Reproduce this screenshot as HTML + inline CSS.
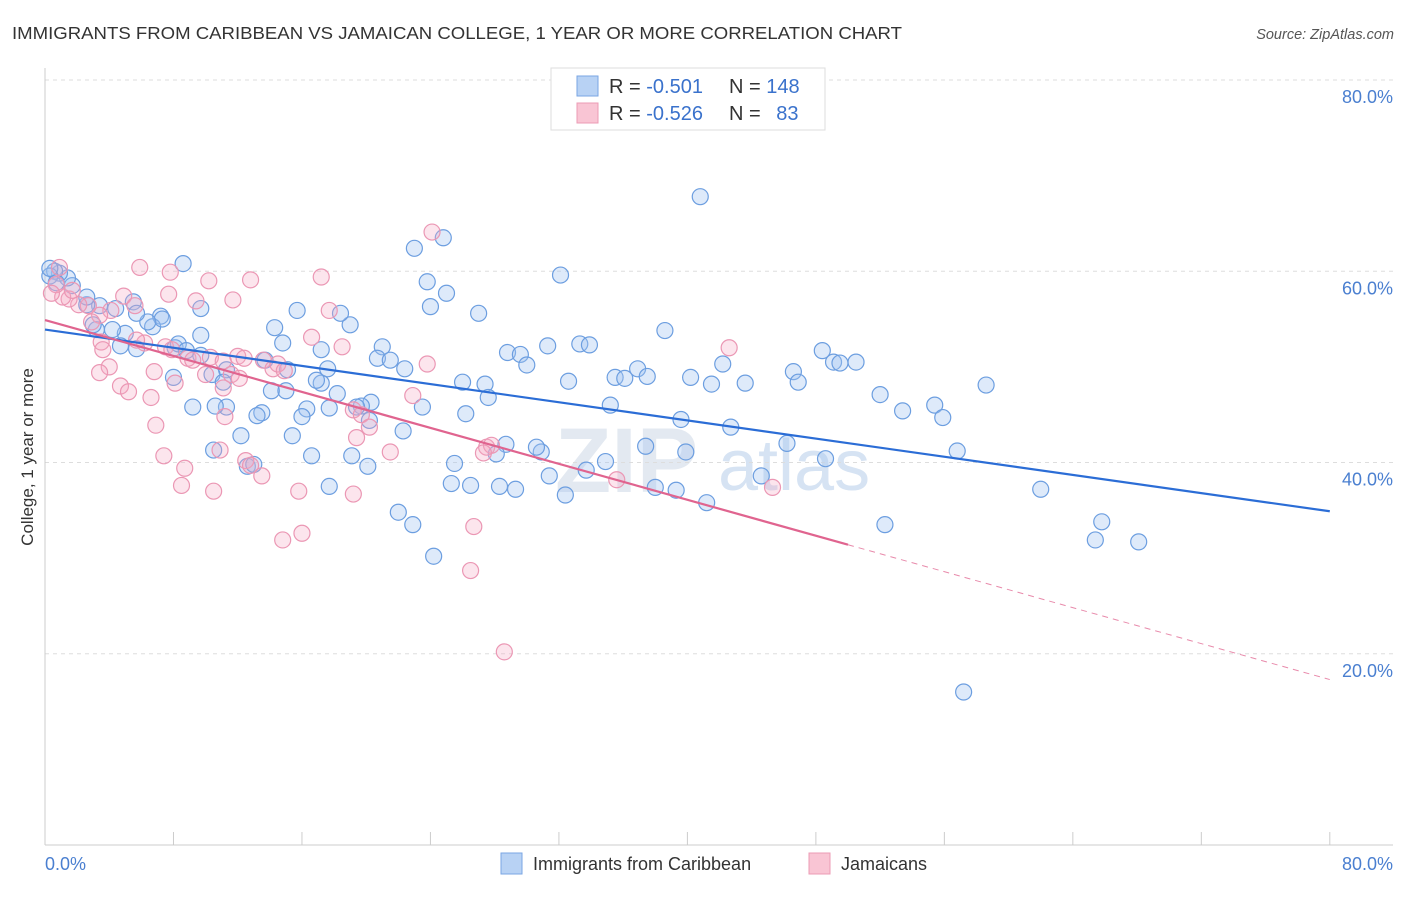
<!DOCTYPE html>
<html><head><meta charset="utf-8"><style>
body{margin:0;background:#fff;font-family:"Liberation Sans",sans-serif;}
svg text{font-family:"Liberation Sans",sans-serif;}
</style></head><body>
<svg id="chart" width="1406" height="892">
<text x="12" y="39" font-size="17.5" fill="#333" textLength="890" lengthAdjust="spacingAndGlyphs">IMMIGRANTS FROM CARIBBEAN VS JAMAICAN COLLEGE, 1 YEAR OR MORE CORRELATION CHART</text>
<text x="1394" y="39" font-size="14.5" fill="#555" font-style="italic" text-anchor="end">Source: ZipAtlas.com</text>
<text x="33" y="457" font-size="17" fill="#333" text-anchor="middle" transform="rotate(-90 33 457)">College, 1 year or more</text>
<text x="555" y="492" font-size="92" fill="#e3e9f1" font-weight="bold">ZIP</text>
<text x="718" y="490" font-size="72" fill="#d6e3f3">atlas</text>
<g id="grid"></g><g id="axes"></g><g id="pts"></g><g id="lines"></g>
<g>
<rect x="551" y="68" width="274" height="62" fill="#fff" stroke="#ddd"/>
<rect x="577" y="76" width="21" height="20" fill="#b8d2f4" stroke="#7aa6e3"/>
<rect x="577" y="103" width="21" height="20" fill="#f9c5d4" stroke="#ec9bb5"/>
<text x="609" y="93" font-size="20" fill="#333">R = <tspan fill="#3a72cc">-0.501</tspan></text>
<text x="729" y="93" font-size="20" fill="#333">N = <tspan fill="#3a72cc">148</tspan></text>
<text x="609" y="120" font-size="20" fill="#333">R = <tspan fill="#3a72cc">-0.526</tspan></text>
<text x="729" y="120" font-size="20" fill="#333">N = <tspan fill="#3a72cc" dx="10">83</tspan></text>
</g>
<g>
<rect x="501" y="853" width="21" height="21" fill="#b8d2f4" stroke="#7aa6e3"/>
<text x="533" y="870" font-size="18" fill="#333">Immigrants from Caribbean</text>
<rect x="809" y="853" width="21" height="21" fill="#f9c5d4" stroke="#ec9bb5"/>
<text x="841" y="870" font-size="18" fill="#333">Jamaicans</text>
</g>
</svg>
<script>
const yTicks=[20,40,60,80];
const yTickLabels=["20.0%","40.0%","60.0%","80.0%"];
const xTickLabels=["0.0%","80.0%"];
const blueX=[40.8,8.6,23.0,24.8,32.1,23.8,25.0,24.0,27.0,38.6,15.7,14.3,19.0,18.4,21.0,17.2,14.8,20.7,21.5,22.4,26.0,27.4,27.6,28.8,29.6,30.0,31.3,33.3,33.9,32.6,35.5,36.1,36.9,37.5,40.2,41.5,42.2,43.6,46.6,46.9,48.4,49.1,49.5,50.5,52.0,53.4,55.4,55.9,58.6,56.8,62.0,65.8,65.4,68.1,57.2,52.3,48.6,46.2,44.6,42.7,39.6,39.9,37.4,35.2,34.9,33.7,38.0,39.3,41.2,31.4,32.4,30.9,30.6,29.3,28.3,28.7,28.1,26.5,25.3,25.5,26.2,23.5,22.3,20.3,19.7,19.4,18.2,17.7,17.2,16.9,16.3,16.0,15.4,13.5,13.2,14.1,15.0,15.1,13.7,11.3,12.2,12.6,13.0,10.5,11.3,10.6,9.2,9.7,10.4,11.1,8.1,8.3,8.8,9.7,9.7,7.2,6.7,7.3,6.4,5.5,5.7,4.4,5.0,4.7,5.7,4.2,3.2,3.0,3.4,2.6,2.6,1.7,1.4,0.9,0.6,0.3,0.7,0.3,16.6,17.6,22.0,22.9,24.2,20.1,17.7,19.1,20.2,8.0];
const blueY=[67.8,60.8,62.4,63.5,59.6,58.9,57.7,56.3,55.6,53.8,55.9,54.1,54.4,55.6,52.1,51.8,52.5,50.9,50.7,49.8,48.4,48.2,46.8,51.5,51.3,50.2,52.2,52.4,52.3,48.5,48.9,48.8,49.8,49.0,48.9,48.2,50.3,48.3,49.5,48.4,51.7,50.5,50.4,50.5,47.1,45.4,46.0,44.7,48.1,41.2,37.2,33.8,31.9,31.7,16.0,33.5,40.4,42.0,38.6,43.7,44.5,41.1,41.7,46.0,40.1,39.2,37.4,37.1,35.8,38.6,36.6,41.1,41.6,37.2,37.5,41.9,40.9,37.6,37.8,39.9,45.1,45.8,43.3,46.3,45.9,45.8,47.2,45.7,48.3,48.6,45.6,44.8,42.8,45.2,44.9,47.5,47.5,49.7,50.7,49.7,42.8,39.6,39.8,41.3,45.8,45.9,45.8,51.2,49.2,48.4,52.0,52.4,51.7,53.3,56.1,55.3,54.2,55.0,54.7,56.8,55.6,56.1,53.5,52.2,51.9,53.9,53.9,54.4,56.4,56.5,57.3,58.5,59.3,59.8,60.0,59.5,58.8,60.3,40.7,49.8,34.8,33.5,30.2,39.6,37.5,40.7,44.4,48.9];
const pinkX=[24.1,17.2,17.7,18.5,12.8,10.2,11.7,7.8,5.9,9.4,7.7,4.9,5.6,4.1,3.4,2.7,2.1,1.5,1.1,0.7,0.4,0.9,1.7,2.9,3.5,3.6,4.0,3.4,4.7,5.2,6.6,6.8,6.2,5.7,7.5,7.9,8.1,8.9,9.2,10.0,10.3,11.1,11.1,11.2,10.9,11.6,12.0,12.4,12.5,12.8,13.6,14.2,14.5,14.9,15.8,16.0,14.8,13.5,10.5,8.7,8.5,7.4,6.9,12.1,19.2,19.7,19.2,19.4,20.2,21.5,22.9,23.8,27.5,27.8,27.3,26.7,26.5,28.6,42.6,45.3,35.6,16.6];
const pinkY=[64.1,59.4,55.9,52.1,59.1,59.0,57.0,59.9,60.4,56.9,57.6,57.4,56.4,55.9,55.4,56.4,56.5,57.1,57.3,58.6,57.7,60.4,58.0,54.7,52.6,51.8,50.0,49.4,48.0,47.4,46.8,49.5,52.5,52.8,52.1,51.8,48.3,50.9,50.7,49.2,51.0,47.8,50.6,44.8,41.3,49.2,51.1,50.9,40.2,39.7,50.7,49.8,50.3,49.6,37.0,32.6,31.9,38.6,37.0,39.4,37.6,40.7,43.9,48.8,45.5,45.0,36.7,42.6,43.7,41.1,47.0,50.3,41.6,41.8,41.0,33.3,28.7,20.2,52.0,37.4,38.2,53.1];
const blueLine=[53.9,34.9];
const pinkLine=[54.9,17.3];
const pinkSolidEnd=50;
const X=v=>45+v*16.06, Y=v=>845-v*9.5625;
const NS="http://www.w3.org/2000/svg";
function mk(tag,attrs,parent){const e=document.createElementNS(NS,tag);for(const k in attrs)e.setAttribute(k,attrs[k]);document.getElementById(parent).appendChild(e);return e;}
yTicks.forEach((t,i)=>{
 const g=mk('line',{x1:45,x2:1393,y1:Y(t),y2:Y(t),stroke:'#ddd','stroke-dasharray':'4,4'},'grid');
 
 
 const l=mk('text',{x:1393,y:Y(t)+23,'font-size':18,fill:'#4a7fd0','text-anchor':'end'},'axes');
 l.textContent=yTickLabels[i];
 
 
});
const ax=mk('line',{x1:45,x2:1393,y1:845,y2:845,stroke:'#ccc'},'axes');


const ay=mk('line',{x1:45,x2:45,y1:68,y2:845,stroke:'#ccc'},'axes');


for(let i=0;i<=10;i++){const t=mk('line',{x1:X(i*8),x2:X(i*8),y1:832,y2:845,stroke:'#ccc'},'axes');
 
 }
[[0,'start',45],[80,'end',1393]].forEach((d,i)=>{const t=mk('text',{x:d[2],y:870,'font-size':18,fill:'#4a7fd0','text-anchor':d[1]},'axes');t.textContent=xTickLabels[i];
 
 });
blueX.forEach((x,i)=>{const c=mk('circle',{cx:X(x),cy:Y(blueY[i]),r:8,fill:'rgba(160,195,240,0.35)',stroke:'#6c9ee0','stroke-width':1.2},'pts');
 
 });
pinkX.forEach((x,i)=>{const c=mk('circle',{cx:X(x),cy:Y(pinkY[i]),r:8,fill:'rgba(245,170,195,0.3)',stroke:'#eb97b4','stroke-width':1.2},'pts');
 
 });
const bl=mk('line',{x1:X(0),y1:Y(blueLine[0]),x2:X(80),y2:Y(blueLine[1]),stroke:'#2b6dd6','stroke-width':2.2},'lines');


const pm=pinkLine[0]+(pinkLine[1]-pinkLine[0])*pinkSolidEnd/80;
const pl=mk('line',{x1:X(0),y1:Y(pinkLine[0]),x2:X(pinkSolidEnd),y2:Y(pm),stroke:'#e0648f','stroke-width':2.2},'lines');


const pd=mk('line',{x1:X(pinkSolidEnd),y1:Y(pm),x2:X(80),y2:Y(pinkLine[1]),stroke:'#e88aab','stroke-width':1,'stroke-dasharray':'6,5'},'lines');


</script>
</body></html>
